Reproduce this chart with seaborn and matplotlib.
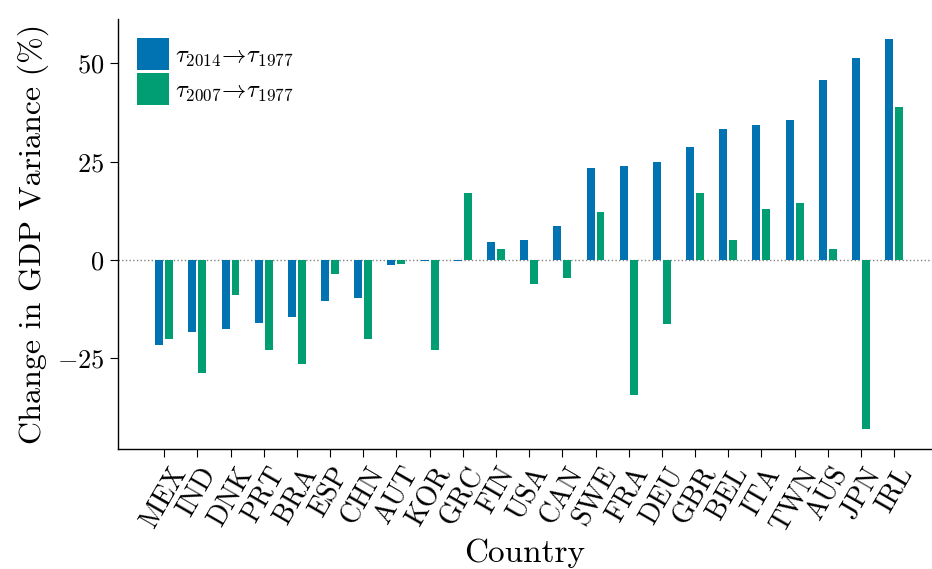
import numpy as np
import pandas as pd
import matplotlib
matplotlib.use("Agg")
import matplotlib.pyplot as plt
import seaborn as sns

countries = ["MEX", "IND", "DNK", "PRT", "BRA", "ESP", "CHN", "AUT", "KOR", "GRC",
             "FIN", "USA", "CAN", "SWE", "FRA", "DEU", "GBR", "BEL", "ITA", "TWN",
             "AUS", "JPN", "IRL"]
change_2014 = [-21.7, -18.4, -17.6, -16.1, -14.6, -10.5, -9.7, -1.3, -0.2, -0.3,
               4.5, 5.0, 8.5, 23.5, 24.0, 24.8, 28.8, 33.2, 34.4, 35.7,
               45.9, 51.4, 56.3]
change_2007 = [-20.1, -28.8, -9.0, -22.9, -26.5, -3.6, -20.1, -1.1, -22.9, 16.9,
               2.7, -6.2, -4.7, 12.1, -34.3, -16.3, 16.9, 5.0, 12.9, 14.4,
               2.7, -43.1, 39.0]
series_labels = [r"$\tau_{2014}\!\rightarrow\!\tau_{1977}$",
                 r"$\tau_{2007}\!\rightarrow\!\tau_{1977}$"]

df = pd.DataFrame({
    "Country": countries * 2,
    "value": change_2014 + change_2007,
    "series": [series_labels[0]] * len(countries) + [series_labels[1]] * len(countries),
})

sns.set_style("ticks")
plt.rcParams.update({
    "font.family": "serif",
    "font.serif": ["cmr10"],
    "mathtext.fontset": "cm",
    "axes.formatter.use_mathtext": True,
    "axes.linewidth": 1.0,
    "axes.edgecolor": "black",
    "axes.labelcolor": "black",
    "text.color": "black",
    "xtick.color": "black",
    "ytick.color": "black",
    "xtick.major.size": 6,
    "ytick.major.size": 6,
})

cb = sns.color_palette("colorblind")
palette = [cb[0], cb[2]]

fig = plt.figure(figsize=(9.32, 5.69), dpi=100)
ax = fig.add_axes([117.7 / 932, 1 - 449.3 / 569, 1 - 117.7 / 932, (449.3 - 19) / 569])

sns.barplot(data=df, x="Country", y="value", hue="series", hue_order=series_labels,
            palette=palette, saturation=1, width=0.6, gap=0.2, ax=ax,
            errorbar=None, linewidth=0)

ax.axhline(0, color="grey", linestyle=":", linewidth=1, zorder=0)
ax.set_xlim(-1.4, 23.14)
ax.set_ylim(-48.2, 61.3)
ax.set_yticks([-25, 0, 25, 50])
ax.tick_params(axis="x", labelrotation=60, labelsize=20)
ax.tick_params(axis="y", labelsize=19)
ax.set_xlabel("Country", fontsize=24, labelpad=2)
ax.set_ylabel("Change in GDP Variance (%)", fontsize=23, labelpad=6)
sns.despine(ax=ax)

handles, labels = ax.get_legend_handles_labels()
ax.legend(handles, labels, frameon=False, loc="upper left",
          bbox_to_anchor=(19 / 814, 1 - 19 / 430), borderaxespad=0, borderpad=0,
          fontsize=17.5, handlelength=1.32, handleheight=1.65, labelspacing=0.12,
          handletextpad=0.25)

fig.savefig("out.png", dpi=100)
